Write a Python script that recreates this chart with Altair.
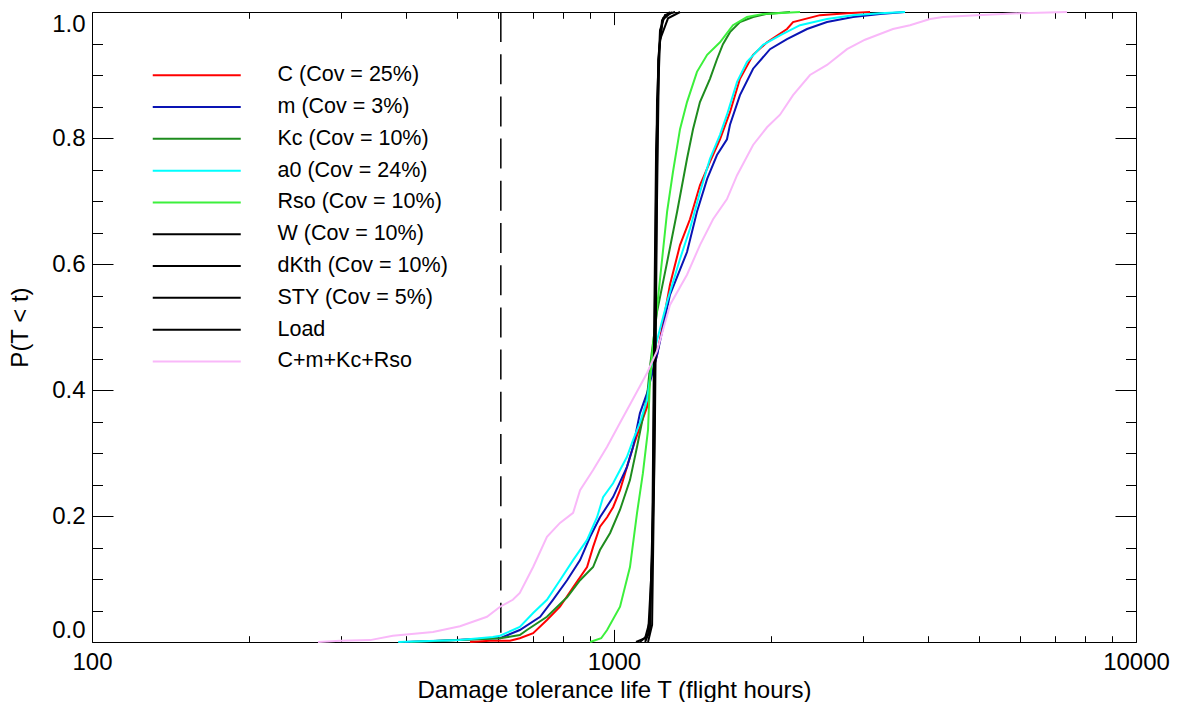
import altair as alt
import pandas as pd

# ---------------- data ----------------
series_names = ["C (Cov = 25%)", "m (Cov = 3%)", "Kc (Cov = 10%)", "a0 (Cov = 24%)",
                "Rso (Cov = 10%)", "W (Cov = 10%)", "dKth (Cov = 10%)", "STY (Cov = 5%)",
                "Load", "C+m+Kc+Rso"]
series_colors = ["#ff0000", "#0a14b4", "#1e8c1e", "#00ffff", "#3cf03c",
                 "#000000", "#000000", "#000000", "#000000", "#f9b8f9"]

c_t = [530, 579, 632, 660, 700, 744, 788, 835, 888, 912, 940, 970, 996, 1027, 1059, 1088,
       1121, 1157, 1172, 1209, 1280, 1338, 1398, 1461, 1527, 1596, 1668, 1743, 1847, 1964,
       2145, 2203, 2481, 2795, 3094]
c_p = [0.0, 0.002, 0.002, 0.006, 0.014, 0.035, 0.056, 0.087, 0.119, 0.151, 0.183, 0.198,
       0.214, 0.241, 0.278, 0.310, 0.341, 0.373, 0.416, 0.455, 0.567, 0.630, 0.671, 0.725,
       0.762, 0.798, 0.841, 0.894, 0.932, 0.952, 0.973, 0.984, 0.995, 0.998, 1.0]

m_t = [398, 464, 586, 605, 660, 722, 764, 813, 861, 900, 940, 996, 1059, 1088, 1121, 1157,
       1209, 1280, 1380, 1442, 1508, 1575, 1646, 1668, 1743, 1847, 1990, 2145, 2343, 2559,
       2870, 3233, 3610]
m_p = [0.0, 0.002, 0.006, 0.006, 0.019, 0.040, 0.067, 0.098, 0.130, 0.167, 0.198, 0.230,
       0.278, 0.310, 0.363, 0.395, 0.455, 0.551, 0.619, 0.683, 0.735, 0.773, 0.798, 0.821,
       0.868, 0.910, 0.941, 0.957, 0.973, 0.984, 0.992, 0.997, 1.0]

kc_t = [407, 507, 605, 660, 681, 744, 813, 861, 912, 940, 983, 1027, 1073, 1107, 1157, 1172,
        1209, 1264, 1321, 1380, 1417, 1461, 1527, 1575, 1617, 1668, 1743, 1847, 1964, 2174]
kc_p = [0.0, 0.003, 0.006, 0.011, 0.019, 0.040, 0.071, 0.098, 0.119, 0.146, 0.173, 0.210,
        0.257, 0.310, 0.389, 0.437, 0.524, 0.603, 0.683, 0.767, 0.814, 0.857, 0.894, 0.925,
        0.949, 0.968, 0.984, 0.992, 0.997, 1.0]

a0_t = [386, 507, 586, 605, 660, 700, 744, 788, 835, 888, 928, 953, 996, 1027, 1059, 1088,
        1121, 1157, 1188, 1264, 1338, 1398, 1461, 1527, 1596, 1646, 1721, 1798, 1930, 2080,
        2272, 2559, 2870, 3233, 3610]
a0_p = [0.0, 0.003, 0.008, 0.010, 0.024, 0.046, 0.067, 0.098, 0.130, 0.162, 0.198, 0.230,
        0.252, 0.273, 0.294, 0.321, 0.348, 0.384, 0.455, 0.540, 0.608, 0.656, 0.714, 0.767,
        0.805, 0.837, 0.889, 0.921, 0.948, 0.963, 0.979, 0.989, 0.995, 0.998, 1.0]

rso_t = [900, 945, 970, 1027, 1073, 1107, 1136, 1162, 1172, 1188, 1225, 1264, 1297, 1338,
         1380, 1442, 1508, 1596, 1690, 1798, 1930, 2272]
rso_p = [0.0, 0.006, 0.019, 0.056, 0.119, 0.205, 0.268, 0.337, 0.416, 0.471, 0.576, 0.683,
         0.746, 0.814, 0.857, 0.905, 0.932, 0.952, 0.979, 0.992, 0.997, 1.0]

w_t = [1102, 1147, 1172, 1188, 1198, 1209, 1225, 1252, 1309]
w_p = [0.0, 0.006, 0.035, 0.225, 0.543, 0.860, 0.971, 0.995, 1.0]

dk_t = [1121, 1162, 1183, 1193, 1204, 1225, 1269, 1338]
dk_p = [0.0, 0.011, 0.130, 0.471, 0.781, 0.956, 0.990, 1.0]

sty_t = [1147, 1172, 1193, 1204, 1215, 1236, 1291]
sty_p = [0.0, 0.019, 0.257, 0.622, 0.924, 0.987, 1.0]

load_t = [1162, 1183, 1198, 1209, 1220, 1241, 1280]
load_p = [0.0, 0.027, 0.352, 0.702, 0.940, 0.990, 1.0]

all_t = [271, 299, 341, 377, 450, 507, 571, 605, 640, 660, 700, 744, 788, 835, 861, 912, 970,
         1027, 1088, 1157, 1209, 1241, 1280, 1380, 1461, 1548, 1646, 1721, 1847, 1964, 2080,
         2203, 2374, 2559, 2795, 3026, 3423, 3690, 4031, 4269, 4960, 5996, 7377]
all_p = [0.0, 0.002, 0.003, 0.010, 0.016, 0.025, 0.040, 0.056, 0.067, 0.078, 0.119, 0.167,
         0.189, 0.205, 0.241, 0.273, 0.310, 0.348, 0.386, 0.427, 0.462, 0.495, 0.535, 0.583,
         0.630, 0.671, 0.703, 0.741, 0.789, 0.817, 0.837, 0.868, 0.900, 0.916, 0.941, 0.956,
         0.973, 0.979, 0.989, 0.992, 0.995, 0.998, 1.0]

half_life = [607]

x_major = [100, 1000, 10000]
x_minor = [200, 300, 400, 500, 600, 700, 800, 900,
           2000, 3000, 4000, 5000, 6000, 7000, 8000, 9000]
y_major = [0.0, 0.2, 0.4, 0.6, 0.8, 1.0]
y_minor = [0.05, 0.1, 0.15, 0.25, 0.3, 0.35, 0.45, 0.5, 0.55, 0.65, 0.7, 0.75,
           0.85, 0.9, 0.95]

series_t = [c_t, m_t, kc_t, a0_t, rso_t, w_t, dk_t, sty_t, load_t, all_t]
series_p = [c_p, m_p, kc_p, a0_p, rso_p, w_p, dk_p, sty_p, load_p, all_p]

rows = []
for name, ts, ps in zip(series_names, series_t, series_p):
    for i, (t, p) in enumerate(zip(ts, ps)):
        rows.append({"series": name, "t": t, "p": p, "i": i})
df = pd.DataFrame(rows)

# ---------------- chart ----------------
W, H = 1044, 630
FONT = "Liberation Sans"

x_scale = alt.Scale(type="log", domain=[100, 10000], nice=False)
y_scale = alt.Scale(domain=[0, 1], nice=False, zero=False)


def tick_axis(orient, offset, values, size):
    return alt.Axis(orient=orient, offset=offset, values=values, tickSize=size,
                    labels=False, domain=False, grid=False, title=None, ticks=True,
                    tickColor="black", tickWidth=1)


lines = alt.Chart(df).mark_line(strokeWidth=2).encode(
    x=alt.X("t:Q", scale=x_scale,
            axis=alt.Axis(orient="bottom", values=x_major, format="d", ticks=False,
                          domain=False, grid=False, labelFlush=False, labelOverlap=False,
                          labelFontSize=24, labelFont=FONT, labelColor="black",
                          labelPadding=8,
                          title="Damage tolerance life T (flight hours)",
                          titleFontSize=24, titleFont=FONT, titleFontWeight="normal",
                          titleColor="black", titlePadding=4)),
    y=alt.Y("p:Q", scale=y_scale,
            axis=alt.Axis(orient="left", values=y_major, format=".1f", ticks=False,
                          domain=False, grid=False, labelOverlap=False, labelFlush=True,
                          labelFontSize=24, labelFont=FONT, labelColor="black",
                          labelPadding=7,
                          title="P(T < t)", titleFontSize=24, titleFont=FONT,
                          titleFontWeight="normal", titleColor="black", titlePadding=19)),
    color=alt.Color("series:N",
                    scale=alt.Scale(domain=series_names, range=series_colors),
                    legend=alt.Legend(orient="none", legendX=60, legendY=52.5, title=None,
                                      symbolType="M-10,0L10,0", symbolSize=77.44,
                                      symbolStrokeWidth=2, symbolOffset=34,
                                      labelOffset=70, labelFontSize=21.5, labelFont=FONT,
                                      labelColor="black", labelLimit=400,
                                      rowPadding=8.8, padding=0)),
    order="i:Q",
)

dashed = alt.Chart(pd.DataFrame({"t": half_life})).mark_rule(
    color="black", strokeWidth=1.5, strokeDash=[30, 12.2]
).encode(x=alt.X("t:Q", scale=x_scale, axis=None))

pts = alt.Chart(df).mark_point(opacity=0, size=1)

ticks_a = pts.encode(
    x=alt.X("t:Q", scale=x_scale, axis=tick_axis("top", -H, x_major, 12.6)),
    y=alt.Y("p:Q", scale=y_scale, axis=tick_axis("right", -W, y_major, 21)),
)
ticks_b = pts.encode(
    x=alt.X("t:Q", scale=x_scale, axis=tick_axis("top", -H, x_minor, 6.3)),
    y=alt.Y("p:Q", scale=y_scale, axis=tick_axis("right", -W, y_minor, 10.5)),
)
ticks_c = pts.encode(
    x=alt.X("t:Q", scale=x_scale, axis=tick_axis("bottom", -H, x_major, 12.6)),
    y=alt.Y("p:Q", scale=y_scale, axis=tick_axis("left", -W, y_major, 21)),
)
ticks_d = pts.encode(
    x=alt.X("t:Q", scale=x_scale, axis=tick_axis("bottom", -H, x_minor, 6.3)),
    y=alt.Y("p:Q", scale=y_scale, axis=tick_axis("left", -W, y_minor, 10.5)),
)

chart = alt.layer(ticks_a, ticks_b, ticks_c, ticks_d, dashed, lines).resolve_axis(
    x="independent", y="independent"
).properties(
    width=W, height=H,
    padding={"left": 84, "top": 4, "right": 40, "bottom": 60},
    autosize=alt.AutoSizeParams(type="none"),
    background="white",
).configure_view(stroke="black", strokeWidth=1)

chart.save("out.html", embed_options={"renderer": "svg", "actions": False})
